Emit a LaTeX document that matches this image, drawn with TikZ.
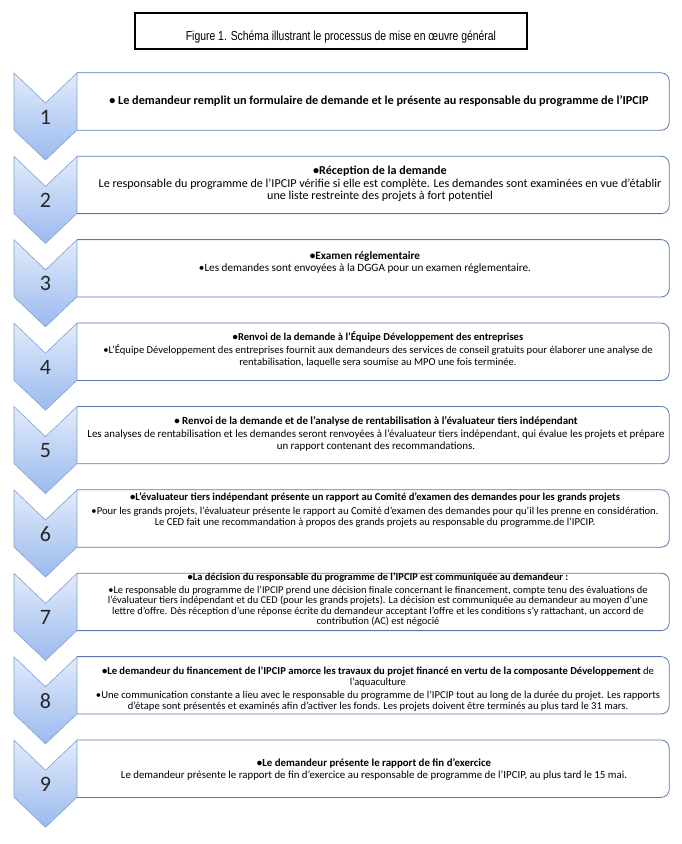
\documentclass[tikz,border=0pt]{standalone}
\usepackage{fontspec}
\setmainfont{Carlito}
\newfontfamily\titlefont{Liberation Sans}[FakeStretch=0.8]
\usepackage{tikz}
\usetikzlibrary{positioning}
\definecolor{chevtop}{RGB}{226,235,251}
\definecolor{chevbot}{RGB}{155,186,238}
\definecolor{chevline}{RGB}{130,160,210}
\definecolor{boxline}{RGB}{90,120,172}
\tikzset{
    x=1pt, y=-1pt,
    titlebox/.style={draw, line width=2.5pt, minimum width=392pt, minimum height=36pt},
    titletext/.style={font=\titlefont\fontsize{13}{15}\selectfont},
    stepbox/.style={minimum width=592pt, minimum height=57pt, inner sep=0pt},
    stepline/.style={draw=boxline, line width=0.8pt, rounded corners=8pt},
    chevron/.style={draw=chevline, line width=0.6pt, top color=chevtop, bottom color=chevbot},
    stepnum/.style={font=\fontsize{22}{24}\selectfont, text=black!85},
    steptext/.style={align=center, inner sep=0pt}
}
\newcommand\fs[2]{\fontsize{#1}{#2}\selectfont}

\begin{document}
\begin{tikzpicture}
    \useasboundingbox (0,0) rectangle (682,844);
    % title
    \node[titlebox] (title) at (331,31) {};
    \node[titletext] (titletxt) at (341,37) {Figure 1. Schéma illustrant le processus de mise en œuvre général};
    % steps
    \foreach \k in {1,...,9} {
        \pgfmathsetmacro\T{73+(\k-1)*83.4}
        \node[stepbox] (b\k) at (373,\T+28.5) {};
        \draw[stepline] (b\k.north west) -- (b\k.north east) -- (b\k.south east) -- (b\k.south west);
        \draw[chevron] (14,\T) -- (45.5,\T+30) -- (77,\T) -- (77,\T+57) -- (45.5,\T+87) -- (14,\T+57) -- cycle;
        \node[stepnum] (n\k) at (45.5,\T+44) {\k};
    }
    % texts
    \node[steptext, font=\bfseries\fs{12.2}{13}] (t1) at (379,101)
        {• Le demandeur remplit un formulaire de demande et le présente au responsable du programme de l’IPCIP};
    \node[steptext, font=\fs{12.1}{12.6}] (t2) at (380,184)
        {\textbf{•Réception de la demande}\\
         Le responsable du programme de l’IPCIP vérifie si elle est complète. Les demandes sont examinées en vue d’établir\\
         une liste restreinte des projets à fort potentiel};
    \node[steptext, font=\fs{11.2}{12}] (t3) at (365,263)
        {\textbf{•Examen réglementaire}\\
         •Les demandes sont envoyées à la DGGA pour un examen réglementaire.};
    \node[steptext, font=\fs{10.6}{12}] (t4) at (378,349)
        {\textbf{•Renvoi de la demande à l’Équipe Développement des entreprises}\\[1pt]
         •L’Équipe Développement des entreprises fournit aux demandeurs des services de conseil gratuits pour élaborer une analyse de\\
         rentabilisation, laquelle sera soumise au MPO une fois terminée.};
    \node[steptext, font=\fs{10.9}{12.3}] (t5) at (376,434)
        {\textbf{• Renvoi de la demande et de l’analyse de rentabilisation à l’évaluateur tiers indépendant}\\
         Les analyses de rentabilisation et les demandes seront renvoyées à l’évaluateur tiers indépendant, qui évalue les projets et prépare\\
         un rapport contenant des recommandations.};
    \node[steptext, font=\fs{10.6}{11}] (t6) at (375,510)
        {\textbf{•L’évaluateur tiers indépendant présente un rapport au Comité d’examen des demandes pour les grands projets}\\[3pt]
         •Pour les grands projets, l’évaluateur présente le rapport au Comité d’examen des demandes pour qu’il les prenne en considération.\\
         Le CED fait une recommandation à propos des grands projets au responsable du programme.de l’IPCIP.};
    \node[steptext, font=\fs{10.4}{10.6}] (t7) at (378,600)
        {\textbf{•La décision du responsable du programme de l’IPCIP est communiquée au demandeur :}\\[1.5pt]
         •Le responsable du programme de l’IPCIP prend une décision finale concernant le financement, compte tenu des évaluations de\\
         l’évaluateur tiers indépendant et du CED (pour les grands projets). La décision est communiquée au demandeur au moyen d’une\\
         lettre d’offre. Dès réception d’une réponse écrite du demandeur acceptant l’offre et les conditions s’y rattachant, un accord de\\
         contribution (AC) est négocié};
    \node[steptext, font=\fs{10.6}{11.3}] (t8) at (378,689)
        {\textbf{•Le demandeur du financement de l’IPCIP amorce les travaux du projet financé en vertu de la composante Développement} de\\
         l’aquaculture\\[2pt]
         •Une communication constante a lieu avec le responsable du programme de l’IPCIP tout au long de la durée du projet. Les rapports\\
         d’étape sont présentés et examinés afin d’activer les fonds. Les projets doivent être terminés au plus tard le 31 mars.};
    \node[steptext, font=\fs{10.85}{12}] (t9) at (374,769)
        {\textbf{•Le demandeur présente le rapport de fin d’exercice}\\
         Le demandeur présente le rapport de fin d’exercice au responsable de programme de l’IPCIP, au plus tard le 15 mai.};
\end{tikzpicture}
\end{document}
